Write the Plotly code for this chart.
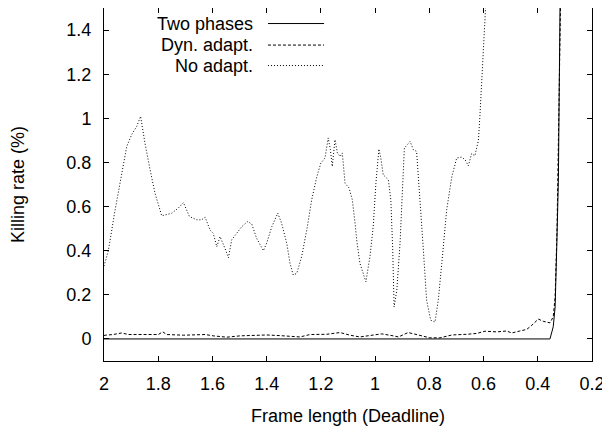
import plotly.graph_objects as go

# ---- data ----
two_x = [2.0, 1.5, 1.0, 0.5, 0.355, 0.343, 0.336, 0.330, 0.324, 0.318, 0.315]
two_y = [0.0, 0.0, 0.0, 0.0, 0.0, 0.055, 0.145, 0.418, 0.72, 1.5, 1.7]

dyn_x = [2.0, 1.996, 1.966, 1.935, 1.910, 1.867, 1.800, 1.783, 1.769, 1.707, 1.658,
         1.627, 1.597, 1.547, 1.498, 1.449, 1.400, 1.351, 1.277, 1.240, 1.179,
         1.129, 1.093, 1.056, 1.019, 0.976, 0.933, 0.914, 0.878, 0.841, 0.798,
         0.761, 0.717, 0.662, 0.625, 0.595, 0.551, 0.515, 0.496, 0.466, 0.441,
         0.422, 0.398, 0.380, 0.355, 0.343, 0.336, 0.329, 0.322, 0.315]
dyn_y = [0.015, 0.017, 0.020, 0.027, 0.020, 0.020, 0.020, 0.032, 0.020, 0.017, 0.017,
         0.020, 0.014, 0.008, 0.014, 0.015, 0.018, 0.015, 0.009, 0.020, 0.021,
         0.029, 0.017, 0.009, 0.017, 0.023, 0.014, 0.009, 0.029, 0.017, 0.005,
         0.005, 0.018, 0.021, 0.025, 0.035, 0.032, 0.036, 0.027, 0.036, 0.043,
         0.062, 0.090, 0.080, 0.073, 0.100, 0.190, 0.500, 1.000, 1.600]

no_x = [2.0, 1.984, 1.959, 1.935, 1.916, 1.898, 1.879, 1.865, 1.849, 1.830, 1.812,
        1.787, 1.750, 1.726, 1.707, 1.685, 1.658, 1.640, 1.627, 1.609, 1.597,
        1.584, 1.572, 1.554, 1.541, 1.529, 1.511, 1.492, 1.470, 1.455, 1.437,
        1.412, 1.400, 1.381, 1.359, 1.345, 1.326, 1.314, 1.302, 1.289, 1.271,
        1.252, 1.234, 1.215, 1.200, 1.185, 1.173, 1.165, 1.158, 1.148, 1.139,
        1.129, 1.121, 1.111, 1.096, 1.084, 1.074, 1.068, 1.056, 1.034, 1.019,
        1.007, 0.997, 0.986, 0.979, 0.970, 0.951, 0.942, 0.935, 0.930, 0.920,
        0.908, 0.898, 0.892, 0.871, 0.859, 0.847, 0.834, 0.822, 0.810, 0.795,
        0.779, 0.767, 0.754, 0.736, 0.717, 0.699, 0.681, 0.668, 0.656, 0.644,
        0.632, 0.619, 0.613, 0.605, 0.598, 0.591, 0.580, 0.550]
no_y = [0.33, 0.40, 0.585, 0.736, 0.873, 0.926, 0.964, 1.009, 0.888, 0.767, 0.661,
        0.558, 0.570, 0.593, 0.618, 0.555, 0.540, 0.540, 0.552, 0.494, 0.479,
        0.418, 0.464, 0.411, 0.368, 0.449, 0.479, 0.509, 0.532, 0.521, 0.456,
        0.400, 0.434, 0.509, 0.570, 0.525, 0.434, 0.343, 0.290, 0.297, 0.373,
        0.494, 0.630, 0.736, 0.797, 0.820, 0.911, 0.858, 0.782, 0.903, 0.843,
        0.827, 0.843, 0.706, 0.684, 0.630, 0.525, 0.449, 0.343, 0.259, 0.373,
        0.509, 0.706, 0.861, 0.820, 0.744, 0.721, 0.630, 0.403, 0.145, 0.221,
        0.434, 0.706, 0.865, 0.895, 0.858, 0.850, 0.630, 0.403, 0.176, 0.085,
        0.077, 0.176, 0.343, 0.585, 0.736, 0.820, 0.824, 0.812, 0.785, 0.840,
        0.830, 0.900, 1.020, 1.200, 1.350, 1.500, 1.750, 2.500]

names = ["Two phases", "Dyn. adapt.", "No adapt."]
dashes = ["solid", "3px,2px", "1px,2px"]

font = "Liberation Sans, Arial, Helvetica, sans-serif"
FS = 18

fig = go.Figure()
for xs, ys, nm, ds in [(two_x, two_y, names[0], dashes[0]),
                       (dyn_x, dyn_y, names[1], dashes[1]),
                       (no_x, no_y, names[2], dashes[2])]:
    fig.add_trace(go.Scatter(x=xs, y=ys, mode="lines", name=nm,
                             line=dict(color="black", width=1, dash=ds),
                             showlegend=False))

# custom legend (text left of sample)
leg_y = [0.956, 0.895, 0.837]
for nm, ds, yy in zip(names, dashes, leg_y):
    fig.add_annotation(x=0.309, y=yy, xref="paper", yref="paper", text=nm,
                       showarrow=False, xanchor="right", yanchor="middle",
                       font=dict(family=font, size=FS, color="black"))
    fig.add_shape(type="line", xref="paper", yref="paper", x0=0.336, x1=0.451,
                  y0=yy, y1=yy, line=dict(color="black", width=1, dash=ds))

axis_common = dict(showline=True, linecolor="black", linewidth=1, mirror="ticks",
                   ticks="inside", ticklen=5, tickcolor="black", showgrid=False,
                   zeroline=False, automargin=False,
                   tickfont=dict(family=font, size=FS, color="black"))

fig.update_xaxes(range=[2, 0.2], tick0=0.2, dtick=0.2, ticklabelstandoff=6,
                 title=dict(text="Frame length (Deadline)", font=dict(family=font, size=FS, color="black"), standoff=16),
                 **axis_common)
fig.update_yaxes(range=[-0.1, 1.5], tick0=0, dtick=0.2, ticklabelstandoff=8,
                 title=dict(text="Killing rate (%)", font=dict(family=font, size=FS, color="black"), standoff=38),
                 **axis_common)

# page body adds an 8px margin, so the figure is sized to fit inside it
fig.update_layout(width=602, height=418, margin=dict(l=96, r=18, t=0, b=65),
                  plot_bgcolor="white", paper_bgcolor="white",
                  font=dict(family=font, size=FS, color="black"))

fig.write_html("out.html")
